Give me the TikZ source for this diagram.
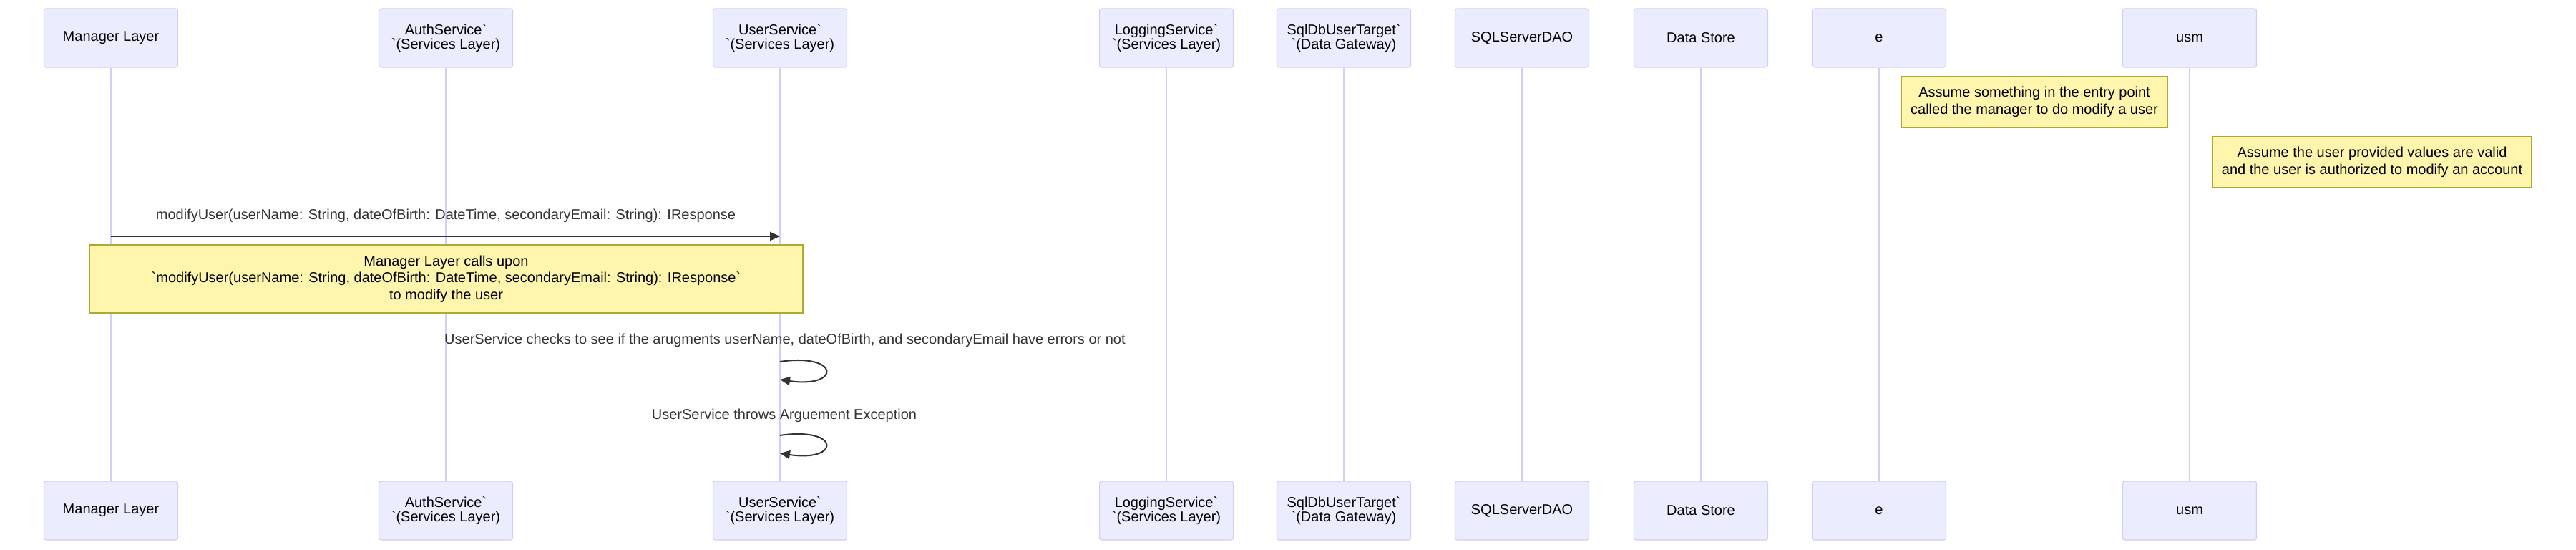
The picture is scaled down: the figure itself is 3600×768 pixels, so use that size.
\documentclass[tikz,border=0pt]{standalone}
\usepackage{fontspec}
\setmainfont{Liberation Sans}
\usetikzlibrary{arrows.meta}

\definecolor{actorfill}{HTML}{ECECFF}
\definecolor{actorline}{HTML}{D4CEF2}
\definecolor{notefill}{HTML}{FFF5AD}
\definecolor{noteline}{HTML}{AAAA33}
\definecolor{msgline}{HTML}{333333}

\begin{document}
\begin{tikzpicture}[x=1pt, y=-1pt, >={Triangle[length=14pt, width=12pt]},
    actor/.style={draw=actorline, fill=actorfill, line width=1.2pt, rounded corners=3pt, minimum width=187pt, minimum height=82pt, inner sep=0pt, align=center, font=\fontsize{20}{20}\selectfont},
    lifeline/.style={draw=actorline, line width=1.5pt},
    notebox/.style={draw=noteline, fill=notefill, line width=1.2pt, inner sep=0pt, align=center, font=\fontsize{20}{23.5}\selectfont},
    msgtext/.style={inner sep=0pt, text=msgline, font=\fontsize{20}{20}\selectfont},
    msg/.style={draw=msgline, line width=2.5pt, ->}]
    \useasboundingbox (0,0) rectangle (3600,768);

    % Define actors (top)
    \node[actor] (mgrT) at (155, 53) {Manager Layer};
    \node[actor] (authT) at (623, 53) {AuthService\textasciigrave\\\textasciigrave(Services Layer)};
    \node[actor] (usrT) at (1090, 53) {UserService\textasciigrave\\\textasciigrave(Services Layer)};
    \node[actor] (logT) at (1630, 53) {LoggingService\textasciigrave\\\textasciigrave(Services Layer)};
    \node[actor] (tgtT) at (1878, 53) {SqlDbUserTarget\textasciigrave\\\textasciigrave(Data Gateway)};
    \node[actor] (daoT) at (2127, 53) {SQLServerDAO};
    \node[actor] (storeT) at (2377, 53) {Data Store};
    \node[actor] (entT) at (2626, 53) {e};
    \node[actor] (usmT) at (3060, 53) {usm};

    % Define actors (bottom)
    \node[actor] (mgrB) at (155, 713) {Manager Layer};
    \node[actor] (authB) at (623, 713) {AuthService\textasciigrave\\\textasciigrave(Services Layer)};
    \node[actor] (usrB) at (1090, 713) {UserService\textasciigrave\\\textasciigrave(Services Layer)};
    \node[actor] (logB) at (1630, 713) {LoggingService\textasciigrave\\\textasciigrave(Services Layer)};
    \node[actor] (tgtB) at (1878, 713) {SqlDbUserTarget\textasciigrave\\\textasciigrave(Data Gateway)};
    \node[actor] (daoB) at (2127, 713) {SQLServerDAO};
    \node[actor] (storeB) at (2377, 713) {Data Store};
    \node[actor] (entB) at (2626, 713) {e};
    \node[actor] (usmB) at (3060, 713) {usm};

    % Draw lifelines
    \draw[lifeline] (mgrT) -- (mgrB);
    \draw[lifeline] (authT) -- (authB);
    \draw[lifeline] (usrT) -- (usrB);
    \draw[lifeline] (logT) -- (logB);
    \draw[lifeline] (tgtT) -- (tgtB);
    \draw[lifeline] (daoT) -- (daoB);
    \draw[lifeline] (storeT) -- (storeB);
    \draw[lifeline] (entT) -- (entB);
    \draw[lifeline] (usmT) -- (usmB);

    % Notes
    \node[notebox, minimum width=372pt, minimum height=71pt] (noteEntry) at (2843, 142.5) {Assume something in the entry point\\called the manager to do modify a user};
    \node[notebox, minimum width=446pt, minimum height=71pt] (noteValid) at (3315, 226.5) {Assume the user provided values are valid\\and the user is authorized to modify an account};

    % Messages
    \coordinate (callY) at (0, 330);
    \node[msgtext] (callLbl) at (623, 301) {modifyUser(userName: String, dateOfBirth: DateTime, secondaryEmail: String): IResponse};
    \draw[msg] (mgrT |- callY) -- (usrT |- callY);

    \node[notebox, minimum width=997pt, minimum height=95pt] (noteCall) at (623.5, 389.5) {Manager Layer calls upon\\\textasciigrave modifyUser(userName: String, dateOfBirth: DateTime, secondaryEmail: String): IResponse\textasciigrave\\to modify the user};

    \node[msgtext] (checkLbl) at (1097, 475) {UserService checks to see if the arugments userName, dateOfBirth, and secondaryEmail have errors or not};
    \coordinate (checkA) at (usrT |- 0, 505);
    \coordinate (checkB) at (usrT |- 0, 530);
    \draw[msg, line width=2pt] (checkA) .. controls (1175, 492.5) and (1175, 542.5) .. (checkB);

    \node[msgtext] (throwLbl) at (1096, 580) {UserService throws Arguement Exception};
    \coordinate (throwA) at (usrT |- 0, 608);
    \coordinate (throwB) at (usrT |- 0, 633);
    \draw[msg, line width=2pt] (throwA) .. controls (1175, 595.5) and (1175, 645.5) .. (throwB);
\end{tikzpicture}
\end{document}
